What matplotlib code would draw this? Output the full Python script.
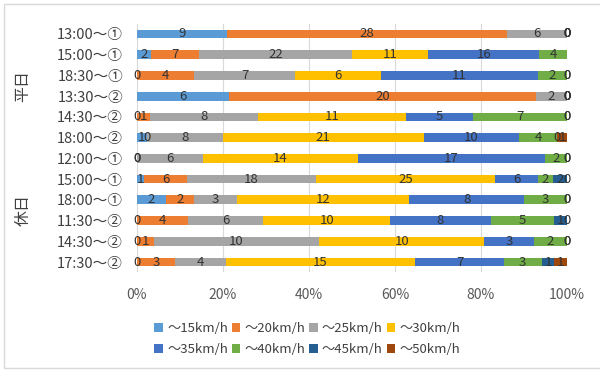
import matplotlib
matplotlib.use("Agg")
import matplotlib.pyplot as plt
from matplotlib.patches import Patch, Rectangle
import numpy as np

plt.rcParams['font.family'] = ['Noto Sans CJK JP', 'DejaVu Sans']

# Survey slots, top to bottom
slots = ["13:00～①", "15:00～①", "18:30～①", "13:30～②", "14:30～②", "18:00～②",
         "12:00～①", "15:00～①", "18:00～①", "11:30～②", "14:30～②", "17:30～②"]
groups = ["平日", "休日"]

speed_bins = ["～15km/h", "～20km/h", "～25km/h", "～30km/h",
              "～35km/h", "～40km/h", "～45km/h", "～50km/h"]
colors = ["#5B9BD5", "#ED7D31", "#A5A5A5", "#FFC000",
          "#4472C4", "#70AD47", "#255E91", "#9E480E"]

# Vehicle counts per speed bin (one list per bin, rows in slot order)
kmh15 = [9, 2, 0, 6, 0, 1, 0, 1, 2, 0, 0, 0]
kmh20 = [28, 7, 4, 20, 1, 0, 0, 6, 2, 4, 1, 3]
kmh25 = [6, 22, 7, 2, 8, 8, 6, 18, 3, 6, 10, 4]
kmh30 = [0, 11, 6, 0, 11, 21, 14, 25, 12, 10, 10, 15]
kmh35 = [0, 16, 11, 0, 5, 10, 17, 6, 8, 8, 3, 7]
kmh40 = [0, 4, 2, 0, 7, 4, 2, 2, 3, 5, 2, 3]
kmh45 = [0, 0, 0, 0, 0, 0, 0, 2, 0, 1, 0, 1]
kmh50 = [0, 0, 0, 0, 0, 1, 0, 0, 0, 0, 0, 1]

series = [kmh15, kmh20, kmh25, kmh30, kmh35, kmh40, kmh45, kmh50]

counts = np.array(series, dtype=float)
totals = counts.sum(axis=0)
shares = counts / totals * 100

fig = plt.figure(figsize=(6.0, 3.71), dpi=100)
ax = fig.add_axes([0.2283, 0.2658, 0.7167, 0.6706])

y = np.arange(len(slots))
left = np.zeros(len(slots))
handles = []
for name, share, raw, col in zip(speed_bins, shares, series, colors):
    bars = ax.barh(y, share, left=left, height=0.42, color=col, label=name)
    ax.bar_label(bars, labels=[str(v) for v in raw], label_type='center',
                 fontsize=9.5, color='#333333')
    left += share
    handles.append(Patch(facecolor=col, edgecolor='none', label=name))

ax.set_ylim(len(slots) - 0.5, -0.5)
ax.set_xlim(0, 100)
ax.set_xticks(np.arange(0, 101, 20))
ax.set_xticklabels([f"{t}%" for t in range(0, 101, 20)])
ax.set_yticks(y)
ax.set_yticklabels(slots)
ax.tick_params(axis='y', length=0, pad=10, labelsize=10.5, labelcolor='#404040')
ax.tick_params(axis='x', length=0, pad=11, labelsize=10, labelcolor='#595959')
ax.grid(axis='x', color='#D9D9D9', linewidth=0.8)
ax.set_axisbelow(True)
for s in ax.spines.values():
    s.set_visible(False)

# Weekday / holiday group labels
for gi, g in enumerate(groups):
    centre = gi * 6 + 2.5
    yfig = ax.transData.transform((0, centre))
    yfig = fig.transFigure.inverted().transform(yfig)[1]
    fig.text(0.038, yfig, g, rotation=90, ha='center', va='center',
             fontsize=11.5, color='#404040')

# Legend laid out row by row
order = [0, 4, 1, 5, 2, 6, 3, 7]
fig.legend([handles[i] for i in order], [speed_bins[i] for i in order],
           ncol=4, loc='center', bbox_to_anchor=(0.512, 0.0865),
           frameon=False, fontsize=9.5, handlelength=0.65, handleheight=0.65,
           handletextpad=0.3, columnspacing=0.3, labelspacing=0.6,
           labelcolor='#404040')

# Chart frame
fig.patches.append(Rectangle((4 / 600, 3 / 371), 1.2, 1 - 7 / 371,
                             transform=fig.transFigure, fill=False,
                             edgecolor='#D9D9D9', linewidth=1.0))

fig.savefig("out.png", dpi=100)
